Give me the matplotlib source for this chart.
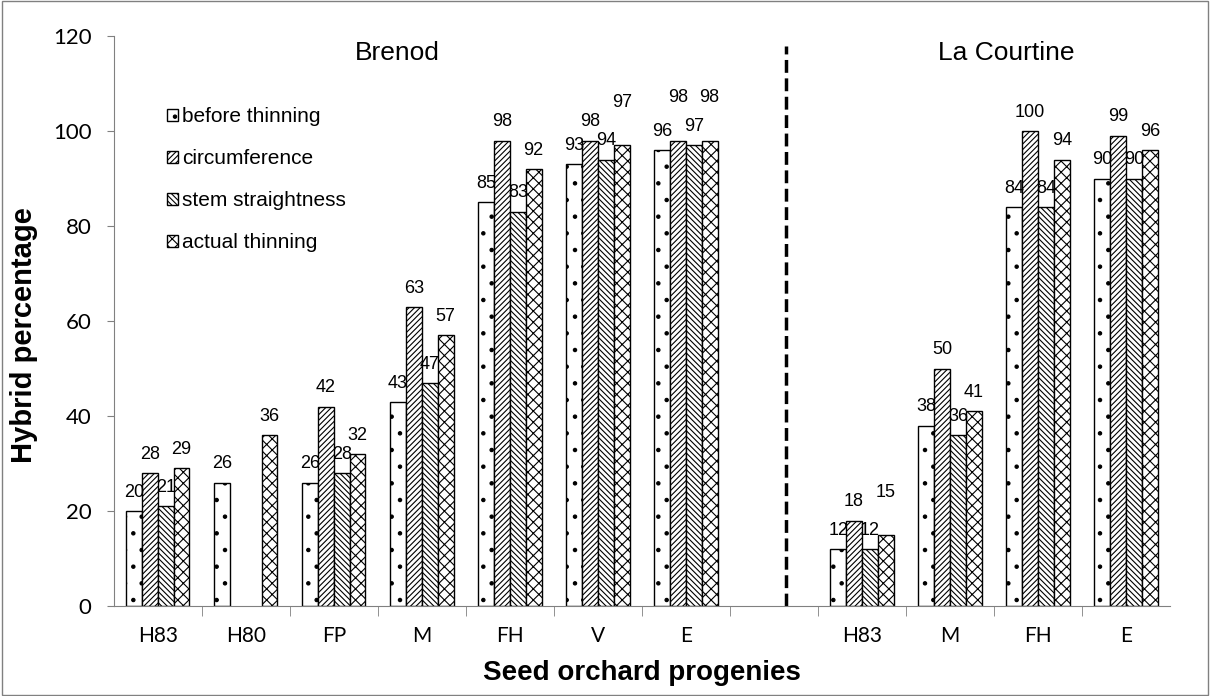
import matplotlib.pyplot as plt
import numpy as np
from matplotlib.patches import Rectangle

plt.rcParams['hatch.linewidth'] = 0.8
plt.rcParams['font.family'] = 'Liberation Sans'

categories = ['H83', 'H80', 'FP', 'M', 'FH', 'V', 'E', '', 'H83', 'M', 'FH', 'E']
series = ['before thinning', 'circumference', 'stem straightness', 'actual thinning']
nan = np.nan
before = [20, 26, 26, 43, 85, 93, 96, nan, 12, 38, 84, 90]
circ = [28, nan, 42, 63, 98, 98, 98, nan, 18, 50, 100, 99]
stem = [21, nan, 28, 47, 83, 94, 97, nan, 12, 36, 84, 90]
actual = [29, 36, 32, 57, 92, 97, 98, nan, 15, 41, 94, 96]
hatches = ['.', '//////', '\\\\\\\\\\\\', 'xxx']

fig = plt.figure(figsize=(12.1, 6.96), dpi=100)
ax = fig.add_axes([0.094, 0.129, 0.873, 0.819])

x = np.arange(len(categories))
w = 0.18
data = [before, circ, stem, actual]
for i, (vals, h, lab) in enumerate(zip(data, hatches, series)):
    pos = x + (i - 1.5) * w
    ax.bar(pos, vals, w, color='white', edgecolor='black', hatch=h,
           linewidth=1.0, label=lab)

# value labels, nudged up when they would collide with the neighbour's label
for j in range(len(categories)):
    prev_v, prev_raised = None, False
    for i in range(4):
        v = data[i][j]
        if np.isnan(v):
            prev_v, prev_raised = None, False
            continue
        y = v + 2.2
        raised = False
        if prev_v is not None and not prev_raised and abs(v - prev_v) < 4:
            y = max(v, prev_v) + 7.2
            raised = True
        ax.text(x[j] + (i - 1.5) * w, y, '%d' % v, ha='center', va='bottom',
                fontsize=13)
        prev_v, prev_raised = v, raised

ax.set_xlim(-0.5, len(categories) - 0.5)
ax.set_ylim(0, 120)
ax.set_yticks(range(0, 121, 20))
ax.set_xticks(x)
ax.set_xticklabels(categories, fontsize=15, family='Lato')
for t in ax.get_yticklabels():
    t.set_family('Lato')
ax.set_xticks(np.arange(0.5, len(categories) - 0.5), minor=True)
ax.tick_params(axis='x', which='major', length=0, pad=14)
ax.tick_params(axis='x', which='minor', length=7, color='gray')
ax.tick_params(axis='y', length=5, color='gray', labelsize=16, pad=11)
for s in ['top', 'right']:
    ax.spines[s].set_visible(False)
for s in ['left', 'bottom']:
    ax.spines[s].set_color('gray')

ax.set_ylabel('Hybrid percentage', fontsize=21, fontweight='bold')
ax.yaxis.set_label_coords(-0.072, 0.475)
ax.set_xlabel('Seed orchard progenies', fontsize=20, fontweight='bold', labelpad=10)

ax.plot([7.14, 7.14], [0, 118], color='black', linestyle='--', linewidth=2.5)
ax.text(2.72, 116.4, 'Brenod', ha='center', va='center', fontsize=19)
ax.text(9.64, 116.4, 'La Courtine', ha='center', va='center', fontsize=19)

ax.legend(loc='upper left', bbox_to_anchor=(0.05, 0.875), frameon=False,
          handlelength=0.55, handleheight=0.55, handletextpad=0.2,
          labelspacing=1.1, borderpad=0, borderaxespad=0,
          prop={'family': 'Liberation Sans', 'size': 15})

fig.patches.append(Rectangle((0.002, 0.002), 0.996, 0.996, transform=fig.transFigure,
                             fill=False, edgecolor='gray', linewidth=1))
fig.savefig('out.png', dpi=100)
